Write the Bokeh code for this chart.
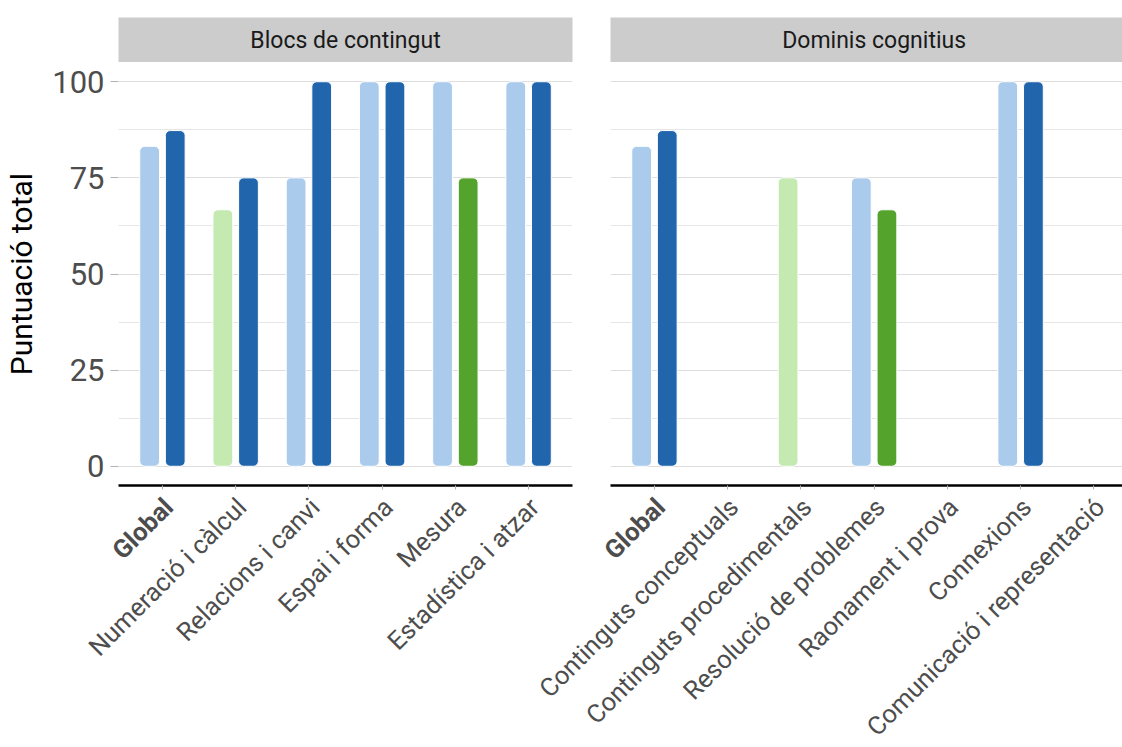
import math
from bokeh.plotting import figure
from bokeh.layouts import column, row
from bokeh.models import ColumnDataSource, Range1d, FixedTicker
from bokeh.transform import dodge, factor_cmap
from bokeh.core.properties import value
from bokeh.embed import file_html
from bokeh.resources import INLINE

# ---------------- data ----------------
blocs_title = "Blocs de contingut"
blocs_cats = ["Global", "Numeració i càlcul", "Relacions i canvi", "Espai i forma",
              "Mesura", "Estadística i atzar"]
blocs_light = [83.2, 66.7, 75, 100, 100, 100]
blocs_dark = [87.3, 75, 100, 100, 75, 100]
blocs_light_group = ["blau", "verd", "blau", "blau", "blau", "blau"]
blocs_dark_group = ["blau", "blau", "blau", "blau", "verd", "blau"]

dominis_title = "Dominis cognitius"
dominis_cats = ["Global", "Continguts conceptuals", "Continguts procedimentals",
                "Resolució de problemes", "Raonament i prova", "Connexions",
                "Comunicació i representació"]
dominis_light = [83.2, None, 75, 75, None, 100, None]
dominis_dark = [87.3, None, None, 66.7, None, 100, None]
dominis_light_group = ["blau", None, "verd", "blau", None, "blau", None]
dominis_dark_group = ["blau", None, None, "verd", None, "blau", None]

highlight_cat = "Global"
y_ticks = [0, 25, 50, 75, 100]
y_minor_ticks = [12.5, 37.5, 62.5, 87.5]
y_title = "Puntuació total"
groups = ["blau", "verd"]

# ---------------- styling / layout ----------------
FONT = "Roboto"
LIGHT_COLORS = ["#abcbec", "#c4eab1"]
DARK_COLORS = ["#2166ac", "#54a32d"]
Y_START, Y_END = -5, 105
PX_PER_UNIT = 73.23
TOTAL_W = 1122
LEFT_W, LEFT_BL, LEFT_BR = 590, 118, 18
RIGHT_W, RIGHT_BL, RIGHT_BR = 532, 20, 0
STRIP_H = 62
FRAME_H = 423
PANEL_BOTTOM = 5
PANEL_H = FRAME_H + PANEL_BOTTOM
LABEL_H = 747 - STRIP_H - PANEL_H
LABEL_Y = 12          # px below top of label area (anchor: right-middle)
LABEL_DX = 6          # px right of the tick
LABEL_SIZE = "25.5px"


def make_source(vals, grps):
    d = {"x": [], "v": [], "g": []}
    for i, (v, g) in enumerate(zip(vals, grps)):
        if v is not None:
            d["x"].append(i + 1)
            d["v"].append(v)
            d["g"].append(g)
    return ColumnDataSource(d)


def make_panel(cats, light, dark, light_grp, dark_grp, width, left, right, show_y):
    n = len(cats)
    xs = list(range(1, n + 1))
    x_end = 0.4 + (width - left - right) / PX_PER_UNIT
    p = figure(width=width, height=PANEL_H, x_range=Range1d(0.4, x_end),
               y_range=Range1d(Y_START, Y_END), output_backend="svg",
               toolbar_location=None, y_axis_location="left" if show_y else None,
               min_border_left=left, min_border_right=right,
               min_border_top=0, min_border_bottom=PANEL_BOTTOM,
               outline_line_color=None, background_fill_color="white",
               border_fill_color="white")

    p.vbar(x=dodge("x", -0.175), top="v", bottom=0, width=0.27,
           source=make_source(light, light_grp),
           fill_color=factor_cmap("g", LIGHT_COLORS, groups),
           line_color="white", line_width=1, border_radius=5)
    p.vbar(x=dodge("x", 0.175), top="v", bottom=0, width=0.27,
           source=make_source(dark, dark_grp),
           fill_color=factor_cmap("g", DARK_COLORS, groups),
           line_color="white", line_width=1, border_radius=5)

    p.xgrid.grid_line_color = None
    p.ygrid.ticker = FixedTicker(ticks=y_ticks, minor_ticks=y_minor_ticks)
    p.ygrid.grid_line_color = "#dedede"
    p.ygrid.minor_grid_line_color = "#e6e6e6"

    xa = p.xaxis[0]
    xa.ticker = FixedTicker(ticks=xs)
    xa.major_label_overrides = {x: "" for x in xs}
    xa.major_label_text_font_size = "0px"
    xa.major_label_standoff = 0
    xa.axis_line_color = "black"
    xa.axis_line_width = 2.5
    xa.major_tick_line_color = "#b3b3b3"
    xa.major_tick_in = 0
    xa.major_tick_out = 4
    xa.minor_tick_line_color = None

    if show_y:
        ya = p.yaxis[0]
        ya.ticker = FixedTicker(ticks=y_ticks)
        ya.axis_line_color = None
        ya.major_tick_line_color = "#b3b3b3"
        ya.major_tick_in = 0
        ya.major_tick_out = 8
        ya.minor_tick_line_color = None
        ya.major_label_text_font = FONT
        ya.major_label_text_font_size = "31px"
        ya.major_label_text_color = "#4d4d4d"
        ya.major_label_standoff = 6
        ya.axis_label = y_title
        ya.axis_label_text_font = FONT
        ya.axis_label_text_font_size = "30px"
        ya.axis_label_text_font_style = "normal"
        ya.axis_label_text_color = "black"
        ya.axis_label_standoff = 10
    return p, x_end


def make_strip(title, n, width, left, right, x_end):
    s = figure(width=width, height=STRIP_H, x_range=Range1d(0.4, x_end),
               y_range=Range1d(0, 1), output_backend="svg", toolbar_location=None,
               x_axis_location=None, y_axis_location=None,
               min_border_left=left, min_border_right=right,
               min_border_top=STRIP_H - 45, min_border_bottom=0,
               background_fill_color="#cccccc", border_fill_color="white",
               outline_line_color=None)
    s.xgrid.visible = False
    s.ygrid.visible = False
    s.text(x=[(n + 1) / 2], y=[0.5], text=[title], text_align="center",
           text_baseline="middle", text_font=value(FONT), text_font_size="23px",
           text_color="#1a1a1a")
    return s


def make_labels():
    # tick-label band under both panels, in the left panel's x units
    x0 = 0.4 - LEFT_BL / PX_PER_UNIT
    shift = (LEFT_W + RIGHT_BL - LEFT_BL) / PX_PER_UNIT
    lf = figure(width=TOTAL_W, height=LABEL_H,
                x_range=Range1d(x0, x0 + TOTAL_W / PX_PER_UNIT),
                y_range=Range1d(LABEL_H, 0), output_backend="svg",
                toolbar_location=None, x_axis_location=None, y_axis_location=None,
                min_border=0, outline_line_color=None,
                background_fill_color="white", border_fill_color="white")
    lf.xgrid.visible = False
    lf.ygrid.visible = False
    pos, txt = [], []
    for i, c in enumerate(blocs_cats):
        pos.append(i + 1)
        txt.append(c)
    for i, c in enumerate(dominis_cats):
        pos.append(i + 1 + shift)
        txt.append(c)
    for bold in (False, True):
        sel = [(x, t) for x, t in zip(pos, txt) if (t == highlight_cat) == bold]
        lf.text(x=[x for x, _ in sel], y=[LABEL_Y] * len(sel), text=[t for _, t in sel],
                angle=math.pi / 4, x_offset=LABEL_DX, text_align="right",
                text_baseline="middle", text_font=value(FONT),
                text_font_size=LABEL_SIZE, text_color="#4d4d4d",
                text_font_style="bold" if bold else "normal")
    return lf


p1, xe1 = make_panel(blocs_cats, blocs_light, blocs_dark, blocs_light_group,
                     blocs_dark_group, LEFT_W, LEFT_BL, LEFT_BR, True)
p2, xe2 = make_panel(dominis_cats, dominis_light, dominis_dark, dominis_light_group,
                     dominis_dark_group, RIGHT_W, RIGHT_BL, RIGHT_BR, False)
s1 = make_strip(blocs_title, len(blocs_cats), LEFT_W, LEFT_BL, LEFT_BR, xe1)
s2 = make_strip(dominis_title, len(dominis_cats), RIGHT_W, RIGHT_BL, RIGHT_BR, xe2)
labels = make_labels()

layout = column(row(s1, s2), row(p1, p2), labels)
open("out.html", "w").write(file_html(layout, INLINE))
